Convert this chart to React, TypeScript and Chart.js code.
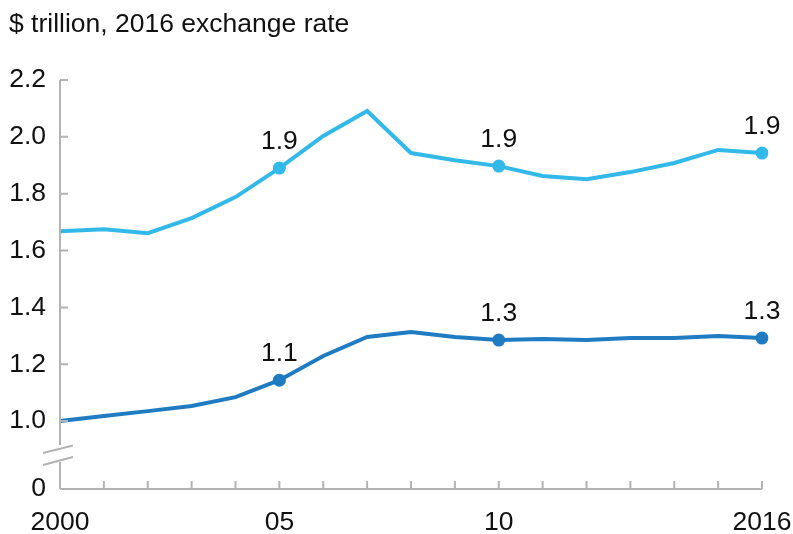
import React, { useEffect, useRef } from "react";
import { Chart, registerables } from "chart.js";

Chart.register(...registerables);

const years = ["2000","2001","2002","2003","2004","2005","2006","2007","2008","2009","2010","2011","2012","2013","2014","2015","2016"];
const xTickLabels: Record<string, string> = { "2000": "2000", "2005": "05", "2010": "10", "2016": "2016" };
const upperSeries = [1.668, 1.675, 1.661, 1.714, 1.788, 1.89, 2.003, 2.091, 1.943, 1.918, 1.897, 1.862, 1.851, 1.876, 1.908, 1.954, 1.943];
const lowerSeries = [1.0, 1.018, 1.035, 1.053, 1.084, 1.144, 1.229, 1.296, 1.313, 1.296, 1.285, 1.289, 1.285, 1.292, 1.292, 1.299, 1.292];
const markedIdx = [5, 10, 16];
const upperLabels = ["1.9", "1.9", "1.9"];
const lowerLabels = ["1.1", "1.3", "1.3"];
const yTicks = [1.0, 1.2, 1.4, 1.6, 1.8, 2.0, 2.2];
const yBreakBase = 0.761; // position shown as "0" below the axis break
const title = "$ trillion, 2016 exchange rate";

const LIGHT = "#33b8ea";
const DARK = "#1f7bc2";
const AXIS = "#b3b3b3";
const FONT = "'Liberation Sans', Arial, sans-serif";
const FS = 26.5;

export default function App() {
  const ref = useRef<HTMLCanvasElement | null>(null);
  useEffect(() => {
    if (!ref.current) return;
    const radii = (arr: number[]) => arr.map((_, i) => (markedIdx.includes(i) ? 6.5 : 0));
    const overlay = {
      id: "overlay",
      afterDatasetsDraw(chart: any) {
        const { ctx, chartArea, scales } = chart;
        const x = scales.x, y = scales.y;
        ctx.save();
        ctx.strokeStyle = AXIS;
        ctx.lineWidth = 2;
        const left = chartArea.left, bottom = chartArea.bottom;
        ctx.beginPath();
        ctx.moveTo(left, y.getPixelForValue(2.2));
        ctx.lineTo(left, bottom - 44);
        ctx.moveTo(left, bottom - 27);
        ctx.lineTo(left, bottom);
        ctx.moveTo(left, bottom);
        ctx.lineTo(chartArea.right, bottom);
        yTicks.forEach((v) => {
          const py = y.getPixelForValue(v);
          ctx.moveTo(left, py);
          ctx.lineTo(left + 8, py);
        });
        ctx.moveTo(left, bottom);
        ctx.lineTo(left + 8, bottom);
        years.forEach((_, i) => {
          const px = x.getPixelForValue(i);
          ctx.moveTo(px, bottom);
          ctx.lineTo(px, bottom - 8);
        });
        ctx.stroke();
        ctx.beginPath();
        ctx.moveTo(left - 17, bottom - 36);
        ctx.lineTo(left + 13, bottom - 43.5);
        ctx.moveTo(left - 17, bottom - 24);
        ctx.lineTo(left + 13, bottom - 32);
        ctx.stroke();
        ctx.fillStyle = "#111";
        ctx.font = `${FS}px ${FONT}`;
        ctx.textAlign = "center";
        ctx.textBaseline = "alphabetic";
        markedIdx.forEach((idx, k) => {
          const px = x.getPixelForValue(idx);
          ctx.fillText(upperLabels[k], px, y.getPixelForValue(upperSeries[idx]) - 19);
          ctx.fillText(lowerLabels[k], px, y.getPixelForValue(lowerSeries[idx]) - 19);
        });
        ctx.textAlign = "left";
        ctx.fillText(title, 9, 32);
        ctx.restore();
      },
    };
    const chart = new Chart(ref.current, {
      type: "line",
      data: {
        labels: years,
        datasets: [
          {
            data: upperSeries,
            borderColor: LIGHT,
            backgroundColor: LIGHT,
            borderWidth: 4,
            pointRadius: radii(upperSeries),
            pointBorderWidth: 0,
            tension: 0,
          },
          {
            data: lowerSeries,
            borderColor: DARK,
            backgroundColor: DARK,
            borderWidth: 4,
            pointRadius: radii(lowerSeries),
            pointBorderWidth: 0,
            tension: 0,
          },
        ],
      },
      options: {
        animation: false,
        responsive: true,
        maintainAspectRatio: false,
        layout: { padding: { left: 0, top: 80, right: 31, bottom: 0 } },
        plugins: { legend: { display: false }, tooltip: { enabled: false } },
        scales: {
          x: {
            type: "category",
            offset: false,
            grid: { display: false, drawTicks: false },
            border: { display: false },
            afterFit: (s: any) => { s.height = 45; s.paddingLeft = 0; s.paddingRight = 0; },
            ticks: {
              autoSkip: false,
              maxRotation: 0,
              padding: 18,
              color: "#111",
              font: { family: FONT, size: FS },
              callback: (_v: any, i: number) => xTickLabels[years[i]] ?? "",
            },
          },
          y: {
            min: yBreakBase,
            max: 2.2,
            grid: { display: false, drawTicks: false },
            border: { display: false },
            afterFit: (s: any) => { s.width = 60; s.paddingTop = 0; s.paddingBottom = 0; },
            afterBuildTicks: (s: any) => {
              s.ticks = [yBreakBase, ...yTicks].map((v) => ({ value: v }));
            },
            ticks: {
              padding: 14,
              color: "#111",
              font: { family: FONT, size: FS },
              callback: (v: any) => (Number(v) < 0.9 ? "0" : Number(v).toFixed(1)),
            },
          },
        },
      },
      plugins: [overlay],
    });
    return () => chart.destroy();
  }, []);
  return (
    <div style={{ position: "absolute", left: 0, top: 0, width: 793, height: 534, background: "#fff" }}>
      <canvas ref={ref} />
    </div>
  );
}
